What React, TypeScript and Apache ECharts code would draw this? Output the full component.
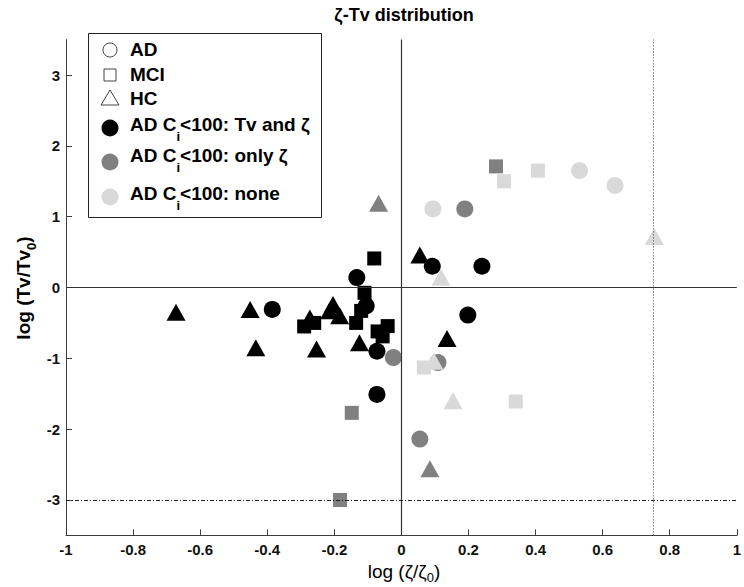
import React, { useEffect, useRef } from 'react';
import * as echarts from 'echarts';

// ---- data (log ζ/ζ0, log Tv/Tv0) ----
const blackCircles = [
  [-0.385, -0.31], [-0.133, 0.14], [-0.105, -0.26], [-0.073, -0.9],
  [-0.073, -1.51], [0.092, 0.3], [0.24, 0.3], [0.198, -0.39],
];
const grayCircles = [[-0.024, -0.99], [0.189, 1.11], [0.109, -1.06], [0.055, -2.14]];
const lightCircles = [[0.094, 1.11], [0.531, 1.65], [0.637, 1.44]];

const blackSquares = [
  [-0.081, 0.41], [-0.11, -0.075], [-0.12, -0.33], [-0.135, -0.5],
  [-0.29, -0.55], [-0.26, -0.5], [-0.071, -0.62], [-0.041, -0.545], [-0.056, -0.69],
];
const graySquares = [[0.282, 1.71], [-0.148, -1.77], [-0.183, -3.0]];
const lightSquares = [[0.306, 1.5], [0.407, 1.65], [0.067, -1.13], [0.341, -1.61]];

const blackTriangles = [
  [-0.672, -0.35], [-0.451, -0.31], [-0.434, -0.85], [-0.273, -0.43], [-0.253, -0.87],
  [-0.204, -0.24], [-0.184, -0.4], [-0.214, -0.33], [-0.125, -0.78], [0.055, 0.46], [0.136, -0.72],
];
const grayTriangles = [[-0.068, 1.19], [0.085, -2.56]];
const lightTriangles = [[0.118, 0.145], [0.754, 0.72], [0.097, -1.04], [0.154, -1.6]];

const yTickValues = [-3, -2, -1, 0, 1, 2, 3];
const xMin = -1, xMax = 1, xStep = 0.2;
const yMin = -3.5, yMax = 3.5;
const solidRefX = 0, solidRefY = 0, dottedRefX = 0.75, dashDotRefY = -3;

const legendLabels = ['AD', 'MCI', 'HC', 'AD C{s|i}<100: Tv and ζ', 'AD C{s|i}<100: only ζ', 'AD C{s|i}<100: none'];

const BLACK = '#000000';
const GRAY = '#808080';
const LIGHT = '#d9d9d9';
const AXIS = '#3c3c3c';
const FONT = '"Liberation Sans", Arial, Helvetica, sans-serif';

export default function App() {
  const ref = useRef<HTMLDivElement>(null);
  useEffect(() => {
    if (!ref.current) return;
    const chart = echarts.init(ref.current, null, { renderer: 'svg', width: 744, height: 587 });
    const sc = (data: number[][], symbol: string, size: any, color: string, z: number) => ({
      type: 'scatter', data, symbol, symbolSize: size, itemStyle: { color, opacity: 1 }, z, silent: true,
    });
    const circ = 17, sq = 14, tri = [19, 17];
    const legRowsY = [49, 74, 98, 124, 155, 193];
    const legMarkY = [50, 75, 98, 128, 162, 197];
    const legX = 110;
    const legend: any[] = [
      { type: 'rect', shape: { x: 88.5, y: 33.5, width: 233, height: 184 }, style: { fill: '#fff', stroke: '#222', lineWidth: 1 }, z: 100 },
      { type: 'circle', shape: { cx: legX, cy: legMarkY[0], r: 7 }, style: { fill: '#fff', stroke: '#444', lineWidth: 1 }, z: 101 },
      { type: 'rect', shape: { x: legX - 6, y: legMarkY[1] - 6, width: 12, height: 12 }, style: { fill: '#fff', stroke: '#444', lineWidth: 1 }, z: 101 },
      { type: 'polygon', shape: { points: [[legX - 9, legMarkY[2] + 7], [legX + 9, legMarkY[2] + 7], [legX, legMarkY[2] - 8]] }, style: { fill: '#fff', stroke: '#444', lineWidth: 1 }, z: 101 },
      { type: 'circle', shape: { cx: legX, cy: legMarkY[3], r: 8.5 }, style: { fill: BLACK }, z: 101 },
      { type: 'circle', shape: { cx: legX, cy: legMarkY[4], r: 8.5 }, style: { fill: GRAY }, z: 101 },
      { type: 'circle', shape: { cx: legX, cy: legMarkY[5], r: 8.5 }, style: { fill: LIGHT }, z: 101 },
    ];
    legendLabels.forEach((t, i) => {
      legend.push({
        type: 'text', x: 130, y: legRowsY[i], z: 102,
        style: {
          text: t, fill: '#000', fontSize: 19, fontWeight: 'bold', fontFamily: FONT,
          align: 'left', verticalAlign: 'middle',
          rich: {
            s: { fontSize: 13, fontWeight: 'bold', fontFamily: FONT, lineHeight: 13, verticalAlign: 'bottom', fill: '#000' },
          },
          lineHeight: 38,
        },
      });
    });
    const texts: any[] = [
      { type: 'text', x: 404, y: 15, style: { text: 'ζ-Tv distribution', fill: '#000', fontSize: 18, fontWeight: 'bold', fontFamily: FONT, align: 'center', verticalAlign: 'middle' } },
      {
        type: 'text', x: 404, y: 571,
        style: {
          text: 'log (ζ/ζ{s|0})', fill: '#000', fontSize: 19, fontFamily: FONT, align: 'center', verticalAlign: 'middle', lineHeight: 26,
          rich: { s: { fontSize: 13, fontFamily: FONT, lineHeight: 13, verticalAlign: 'bottom', fill: '#000' } },
        },
      },
      {
        type: 'text', x: 23, y: 288, rotation: Math.PI / 2,
        style: {
          text: 'log (Tv/Tv{s|0})', fill: '#000', fontSize: 19, fontWeight: 'bold', fontFamily: FONT, align: 'center', verticalAlign: 'middle', lineHeight: 30,
          rich: { s: { fontSize: 13, fontWeight: 'bold', fontFamily: FONT, lineHeight: 13, verticalAlign: 'bottom', fill: '#000' } },
        },
      },
    ];
    chart.setOption({
      animation: false,
      backgroundColor: '#fff',
      grid: { left: 66, right: 2, top: 39.6, bottom: 51.6, containLabel: false },
      xAxis: {
        type: 'value', min: xMin, max: xMax, interval: xStep,
        axisLine: { onZero: false, lineStyle: { color: AXIS, width: 1 } },
        axisTick: { inside: true, length: 6, lineStyle: { color: AXIS } },
        axisLabel: { color: '#111', fontSize: 15, fontWeight: 'bold', fontFamily: FONT, margin: 7 },
        splitLine: { show: false },
      },
      yAxis: {
        type: 'value', min: yMin, max: yMax,
        axisLine: { show: true, onZero: false, lineStyle: { color: AXIS, width: 1 } },
        axisTick: { show: true, inside: true, length: 6, lineStyle: { color: AXIS }, customValues: yTickValues },
        axisLabel: { color: '#111', fontSize: 15, fontWeight: 'bold', fontFamily: FONT, margin: 6, customValues: yTickValues },
        splitLine: { show: false },
      },
      series: [
        {
          type: 'scatter', data: [], z: 1, silent: true,
          markLine: {
            silent: true, symbol: 'none', label: { show: false }, animation: false,
            data: [
              { xAxis: solidRefX, lineStyle: { color: '#333', width: 1.2, type: 'solid' } },
              { yAxis: solidRefY, lineStyle: { color: '#333', width: 1.2, type: 'solid' } },
              { xAxis: dottedRefX, lineStyle: { color: '#444', width: 1, type: [1, 2] } },
              { yAxis: dashDotRefY, lineStyle: { color: '#222', width: 1, type: [4, 2, 1, 2] } },
            ],
          },
        },
        sc(grayCircles, 'circle', circ, GRAY, 2),
        sc(graySquares, 'rect', sq, GRAY, 2),
        sc(grayTriangles, 'triangle', tri, GRAY, 2),
        sc(lightCircles, 'circle', circ, LIGHT, 3),
        sc(lightSquares, 'rect', sq, LIGHT, 3),
        sc(lightTriangles, 'triangle', tri, LIGHT, 3),
        sc(blackTriangles, 'triangle', tri, BLACK, 4),
        sc(blackSquares, 'rect', sq, BLACK, 4),
        sc(blackCircles, 'circle', circ, BLACK, 4),
      ],
      graphic: [...legend, ...texts],
    });
    return () => chart.dispose();
  }, []);
  return <div ref={ref} style={{ position: 'fixed', left: 0, top: 0, width: 744, height: 587 }} />;
}
